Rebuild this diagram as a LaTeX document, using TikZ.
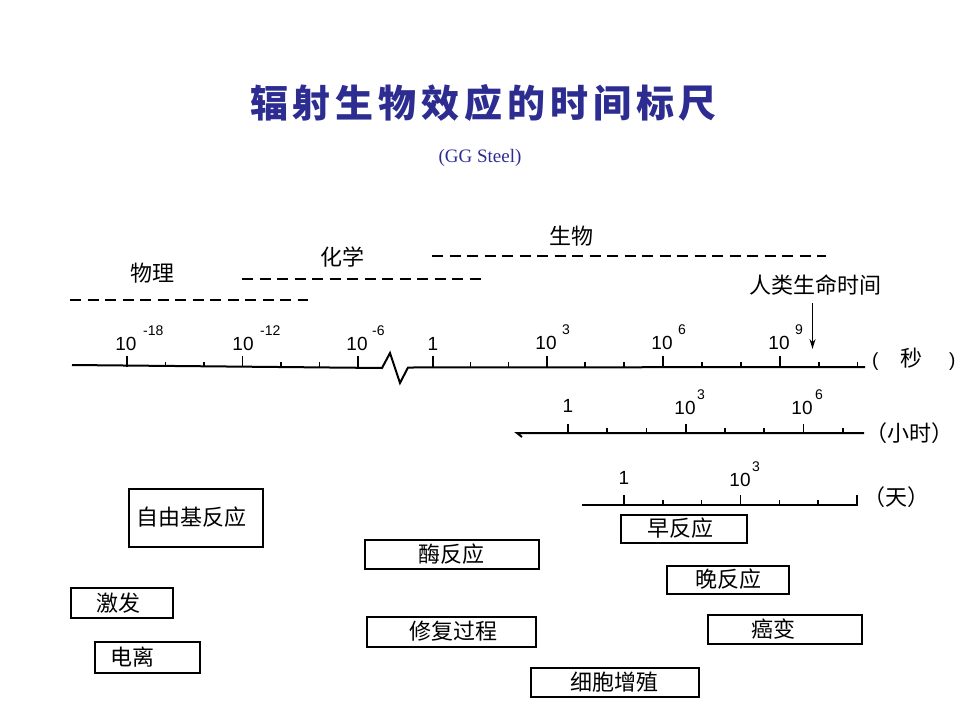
\documentclass[tikz,border=0pt]{standalone}
\usepackage{fontspec}
\setmainfont{Liberation Sans}
\newfontfamily\cjk{Noto Sans CJK SC}
\newfontfamily\ggserif{Liberation Serif}
\usetikzlibrary{arrows.meta}
\definecolor{titleblue}{RGB}{45,45,145}
\newcommand{\tgap}{\hspace{4.9pt}}
\newcommand{\powlabel}[5]{%
  \node[num] (#1) at (#2-1,#3) {10};
  \node[expo] (#1e) at (#2+#5,#3-13) {#4};}
\begin{document}
\begin{tikzpicture}[x=1pt,y=-1pt,
  axis/.style={line width=2pt, line join=miter},
  tick/.style={line width=1.4pt},
  dashline/.style={line width=1.7pt, dash pattern=on 11pt off 6.5pt},
  box/.style={draw, line width=1.7pt, inner sep=0pt},
  lab/.style={font=\cjk\fontsize{22}{22}\selectfont, inner sep=0pt},
  num/.style={font=\fontsize{19}{19}\selectfont, inner sep=0pt},
  expo/.style={font=\fontsize{14}{14}\selectfont, inner sep=0pt, anchor=west},
  arr/.style={line width=1.5pt, -{Stealth[length=10pt,width=6pt]}},
]
\useasboundingbox (0,0) rectangle (960,720);

% title
\node[inner sep=0pt, text=titleblue, font=\cjk\bfseries\fontsize{38}{38}\selectfont] (title) at (483.5,103)
  {辐\tgap 射\tgap 生\tgap 物\tgap 效\tgap 应\tgap 的\tgap 时\tgap 间\tgap 标\tgap 尺};
\node[inner sep=0pt, text=titleblue, font=\ggserif\fontsize{19}{19}\selectfont] (sub) at (480,158) {(GG Steel)};

% category labels and dashed ranges
\node[lab] (phys) at (152,273) {物理};
\node[lab] (chem) at (342,257) {化学};
\node[lab] (bio) at (571,236) {生物};
\coordinate (p1) at (70,300);  \coordinate (p2) at (308,300);
\coordinate (c1) at (242,279); \coordinate (c2) at (487,279);
\coordinate (b1) at (432,256); \coordinate (b2) at (826,256);
\draw[dashline] (p1) -- (p2);
\draw[dashline] (c1) -- (c2);
\draw[dashline] (b1) -- (b2);

% human lifetime arrow
\node[lab] (life) at (815,285) {人类生命时间};
\coordinate (arrTop) at (812.5,303);
\coordinate (arrBot) at (812.5,349);
\draw[arr] (arrTop) -- (arrBot);

% seconds axis
\coordinate (sL) at (72,365);
\coordinate (zA) at (382,368);
\coordinate (zB) at (390,353);
\coordinate (zC) at (400,383);
\coordinate (zD) at (408,367.5);
\coordinate (sR) at (865,367);
\draw[axis] (sL) -- (zA) -- (zB) -- (zC) -- (zD) -- (sR);
\foreach \x in {127,242.5,358} \draw[tick] (\x,367) -- (\x,356);
\foreach \x in {165.5,204,281,319.5} \draw[tick] (\x,367) -- (\x,362);
\foreach \x in {433,547,663,780} \draw[tick] (\x,367) -- (\x,356);
\foreach \x in {470.5,508.5,585,624,702,741,819,857.5} \draw[tick] (\x,367) -- (\x,361.5);
\powlabel{s18}{127}{344}{-18}{16}
\powlabel{s12}{244}{344}{-12}{16}
\powlabel{s6}{358}{344}{-6}{14}
\node[num] (s0) at (433,344) {1};
\powlabel{s3}{547}{343}{3}{15}
\powlabel{sp6}{663}{343}{6}{15}
\powlabel{s9}{780}{343}{9}{15}
\node[inner sep=0pt, font=\fontsize{19}{19}\selectfont] (sec) at (913.7,359) {(\hspace{21.7pt}{\cjk\fontsize{22}{22}\selectfont 秒}\hspace{27pt})};

% hours axis
\coordinate (hL) at (517,433);
\coordinate (hR) at (864,433);
\coordinate (hHook) at (522,437);
\draw[axis] (hHook) -- (hL) -- (hR);
\foreach \x in {568,686,803.5} \draw[tick] (\x,433) -- (\x,424);
\foreach \x in {607,646.5,725,764,843} \draw[tick] (\x,433) -- (\x,428);
\node[num] (h0) at (568,406) {1};
\powlabel{h3}{686}{408}{3}{11}
\powlabel{h6}{803}{408}{6}{12}
\node[inner sep=0pt, font=\cjk\fontsize{22}{22}\selectfont] (hrs) at (909,433) {（小时）};

% days axis
\coordinate (dL) at (582,505);
\coordinate (dR) at (858,505);
\draw[axis] (dL) -- (dR);
\foreach \x in {624,740.4,857} \draw[tick] (\x,505) -- (\x,495);
\foreach \x in {662.8,701.6,779.2,818} \draw[tick] (\x,505) -- (\x,500);
\node[num] (d0) at (624,478) {1};
\powlabel{d3}{741}{480}{3}{11}
\node[inner sep=0pt, font=\cjk\fontsize{22}{22}\selectfont] (days) at (896,497) {（天）};

% boxes
\node[box, minimum width=134pt, minimum height=58pt] (bx1) at (196,518) {};
\node[lab] (t1) at (191,517) {自由基反应};
\node[box, minimum width=102pt, minimum height=30pt] (bx2) at (122,603) {};
\node[lab] (t2) at (118,603) {激发};
\node[box, minimum width=105pt, minimum height=31pt] (bx3) at (147.5,657.5) {};
\node[lab] (t3) at (132,657) {电离};
\node[box, minimum width=174pt, minimum height=29pt] (bx4) at (452,554.5) {};
\node[lab] (t4) at (451,554) {酶反应};
\node[box, minimum width=169pt, minimum height=30pt] (bx5) at (451.5,632) {};
\node[lab] (t5) at (453,631) {修复过程};
\node[box, minimum width=168pt, minimum height=29pt] (bx6) at (615,682.5) {};
\node[lab] (t6) at (614,682) {细胞增殖};
\node[box, minimum width=126pt, minimum height=28pt] (bx7) at (684,529) {};
\node[lab] (t7) at (680,528) {早反应};
\node[box, minimum width=122pt, minimum height=28pt] (bx8) at (728,580) {};
\node[lab] (t8) at (728,579) {晚反应};
\node[box, minimum width=154pt, minimum height=29pt] (bx9) at (785,629.5) {};
\node[lab] (t9) at (773,629) {癌变};
\end{tikzpicture}
\end{document}
